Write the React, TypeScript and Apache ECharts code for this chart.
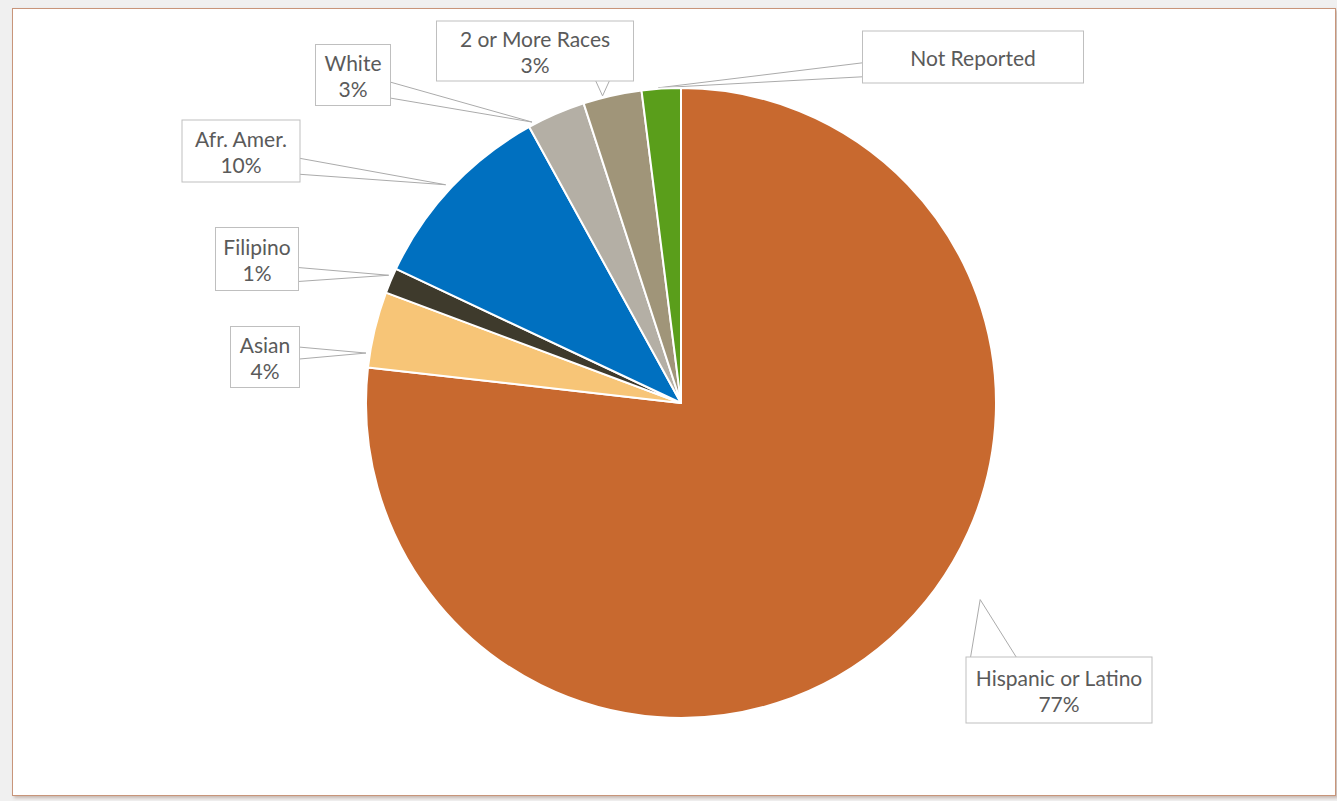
import React, { useEffect, useRef } from "react";
import * as echarts from "echarts";

const categories = [
  "Hispanic or Latino",
  "Asian",
  "Filipino",
  "Afr. Amer.",
  "White",
  "2 or More Races",
  "Not Reported",
];
const values = [76.8, 3.9, 1.3, 10.0, 3.0, 3.0, 2.0];
const percentLabels = ["77%", "4%", "1%", "10%", "3%", "3%", ""];
const colors = ["#C8692F", "#F7C577", "#3E3A2C", "#0070C0", "#B4AFA5", "#A09579", "#5A9E1B"];

// layout (not data): pie geometry and callout boxes
const CENTER = [681, 403];
const RADIUS = 315;
const LINE_H = 26;
type Box = { cx: number; cy: number; w: number; h: number; tipFrac: number; tipOut: number; half: number };
const labelBoxes: Record<string, Box> = {
  "Hispanic or Latino": { cx: 1059, cy: 690, w: 185, h: 65, tipFrac: 0.446, tipOut: 43, half: 23 },
  Asian: { cx: 265, cy: 357, w: 68, h: 60, tipFrac: 0.18, tipOut: 4, half: 6 },
  Filipino: { cx: 257, cy: 259, w: 82, h: 62, tipFrac: 0.66, tipOut: 4, half: 7 },
  "Afr. Amer.": { cx: 241, cy: 151, w: 117, h: 61, tipFrac: 0.49, tipOut: 6, half: 8 },
  White: { cx: 353, cy: 75, w: 74, h: 60, tipFrac: 0.08, tipOut: 3, half: 8 },
  "2 or More Races": { cx: 535, cy: 51, w: 196, h: 59, tipFrac: 0.34, tipOut: 2, half: 7 },
  "Not Reported": { cx: 973, cy: 57, w: 220, h: 51, tipFrac: 0.43, tipOut: 1, half: 7 },
};

const clamp = (v: number, lo: number, hi: number) => Math.max(lo, Math.min(hi, v));

function calloutPoints(i: number): number[][] {
  const b = labelBoxes[categories[i]];
  const total = values.reduce((a, c) => a + c, 0);
  let start = 0;
  for (let k = 0; k < i; k++) start += values[k];
  const a0 = (start / total) * 360;
  const a1 = ((start + values[i]) / total) * 360;
  const ang = ((a0 + (a1 - a0) * b.tipFrac) * Math.PI) / 180;
  const r = RADIUS + b.tipOut;
  const tx = CENTER[0] + r * Math.sin(ang);
  const ty = CENTER[1] - r * Math.cos(ang);
  const left = b.cx - b.w / 2;
  const right = b.cx + b.w / 2;
  const top = b.cy - b.h / 2;
  const bottom = b.cy + b.h / 2;
  const dxOut = Math.max(left - tx, tx - right, 0);
  const dyOut = Math.max(top - ty, ty - bottom, 0);
  const m = 4;
  if (dyOut > dxOut) {
    const y = ty < top ? top : bottom;
    const c = clamp(tx, left + b.half + m, right - b.half - m);
    return [[c - b.half, y], [tx, ty], [c + b.half, y]];
  }
  const x = tx < left ? left : right;
  const c = clamp(ty, top + Math.max(b.h * 0.25, b.half + m), bottom - Math.max(b.h * 0.25, b.half + m));
  return [[x, c - b.half], [tx, ty], [x, c + b.half]];
}

export default function App() {
  const ref = useRef<HTMLDivElement>(null);
  useEffect(() => {
    if (!ref.current) return;
    const chart = echarts.init(ref.current, undefined, { renderer: "svg" });
    const data = categories.map((name, i) => {
      const b = labelBoxes[name];
      const lines = percentLabels[i] ? 2 : 1;
      const pv = (b.h - lines * LINE_H) / 2;
      return {
        name,
        value: values[i],
        itemStyle: { color: colors[i] },
        label: { width: b.w, padding: [pv, 0, pv, 0] },
      };
    });
    chart.setOption({
      animation: false,
      series: [
        {
          type: "pie",
          center: CENTER,
          radius: RADIUS,
          startAngle: 90,
          clockwise: true,
          avoidLabelOverlap: false,
          silent: true,
          emphasis: { disabled: true },
          itemStyle: { borderColor: "#ffffff", borderWidth: 2 },
          label: {
            show: true,
            position: "outer",
            overflow: "none",
            formatter: (p: any) => {
              const pct = percentLabels[p.dataIndex];
              return pct ? `${p.name}\n${pct}` : p.name;
            },
            color: "#5A5A5A",
            fontFamily: "Lato, 'Open Sans', sans-serif",
            fontSize: 21,
            lineHeight: LINE_H,
            align: "center",
            backgroundColor: "#ffffff",
            borderColor: "#BFBFBF",
            borderWidth: 1,
          },
          labelLine: {
            show: true,
            length: 20,
            length2: 20,
            lineStyle: { color: "#ABABAB", width: 1 },
          },
          labelLayout: (params: any) => {
            const b = labelBoxes[categories[params.dataIndex]];
            return {
              x: b.cx,
              y: b.cy,
              align: "center",
              verticalAlign: "middle",
              labelLinePoints: calloutPoints(params.dataIndex),
            };
          },
          data,
        },
      ],
    });
    return () => chart.dispose();
  }, []);

  return (
    <div style={{ position: "fixed", left: 0, top: 0, width: 1337, height: 801, background: "#F0F0F0", overflow: "hidden" }}>
      <div
        style={{
          position: "absolute",
          left: 12,
          top: 8,
          width: 1322,
          height: 786,
          background: "#ffffff",
          border: "1px solid #C8957A",
          boxShadow: "2px 2px 3px rgba(120,80,60,0.35)",
        }}
      />
      <div ref={ref} style={{ position: "absolute", left: 0, top: 0, width: 1337, height: 801 }} />
    </div>
  );
}
